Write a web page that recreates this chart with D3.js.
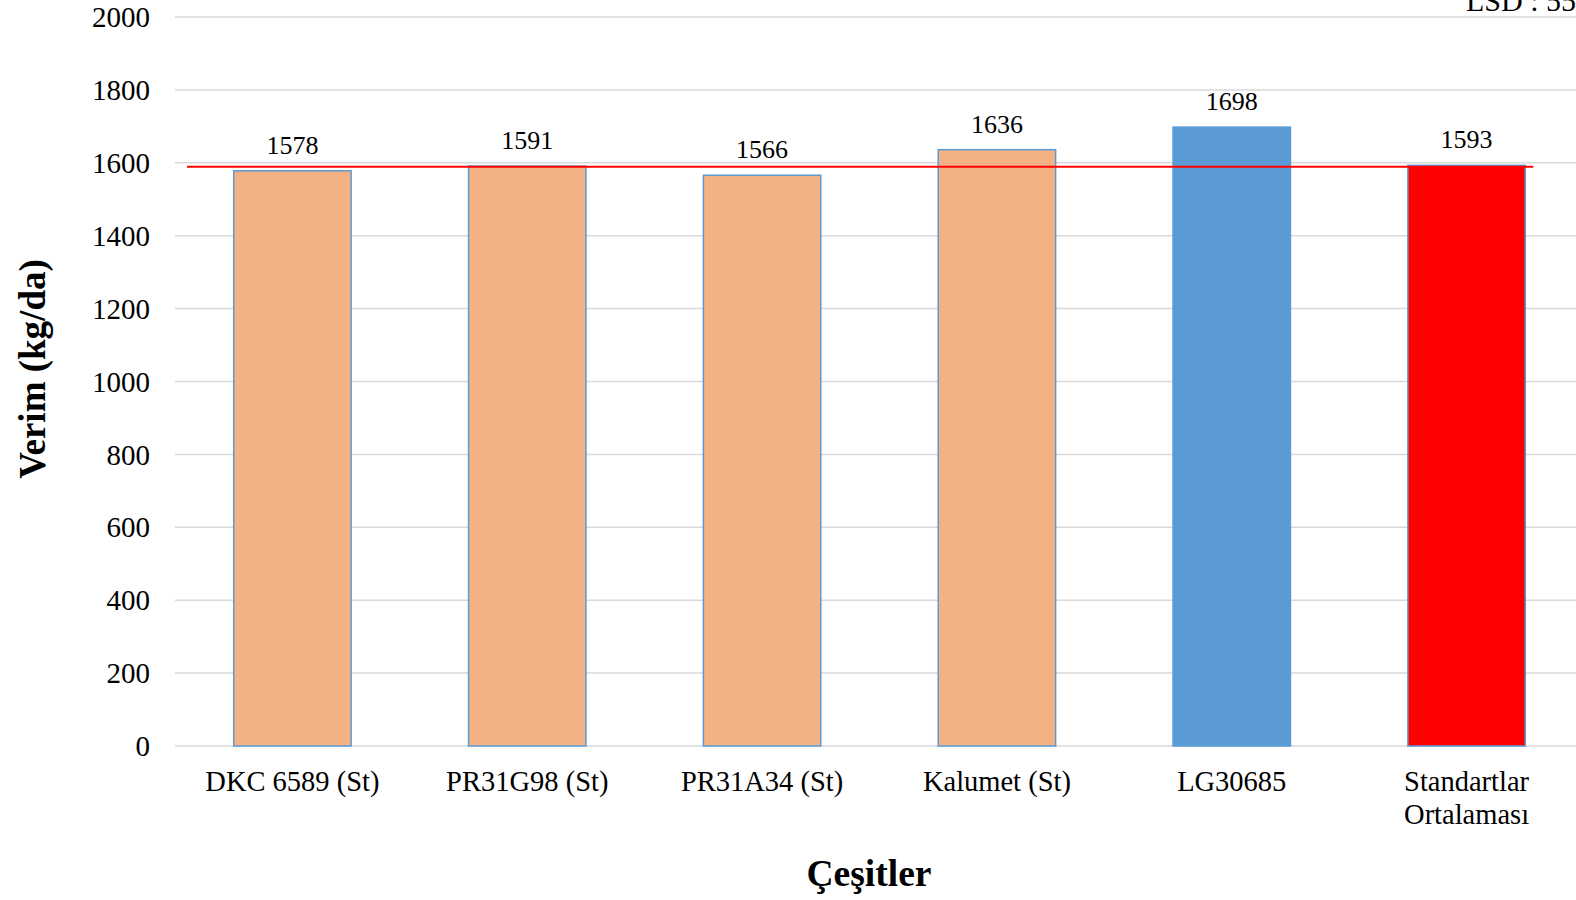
<!DOCTYPE html>
<html><head><meta charset="utf-8">
<script src="https://cdn.jsdelivr.net/npm/d3@7"></script>
<style>body{margin:0;background:#fff;overflow:hidden}text{font-family:"Liberation Serif","Times New Roman",serif;fill:#000}</style>
</head><body><svg id="c" width="1576" height="900"></svg>
<script>
const categories = ["DKC 6589 (St)", "PR31G98 (St)", "PR31A34 (St)", "Kalumet (St)", "LG30685", "Standartlar Ortalaması"];
const values = [1578, 1591, 1566, 1636, 1698, 1593];
const barColors = ["#F4B183", "#F4B183", "#F4B183", "#F4B183", "#5B9BD5", "#FF0000"];
const yTicks = [0, 200, 400, 600, 800, 1000, 1200, 1400, 1600, 1800, 2000];
const meanLine = 1593;
const lsdText = "LSD : 55";

const svg = d3.select("#c");
const x = d3.scaleBand().domain(categories).range([175, 1584]).paddingInner(0.5).paddingOuter(0.25);
const y = d3.scaleLinear().domain([0, 2000]).range([746, 17]);

// gridlines
svg.append("g").selectAll("line").data(yTicks).join("line")
  .attr("x1", 175).attr("x2", 1576)
  .attr("y1", d => y(d)).attr("y2", d => y(d))
  .attr("stroke", "#d9d9d9").attr("stroke-width", 1.5);

// y tick labels
svg.append("g").selectAll("text").data(yTicks).join("text")
  .attr("x", 150).attr("y", d => y(d)).attr("dy", "0.35em")
  .attr("text-anchor", "end").attr("font-size", 29).text(d => d);

// bars
svg.append("g").selectAll("rect").data(values).join("rect")
  .attr("x", (d, i) => x(categories[i])).attr("width", x.bandwidth())
  .attr("y", d => y(d)).attr("height", d => y(0) - y(d))
  .attr("fill", (d, i) => barColors[i])
  .attr("stroke", "#5B9BD5").attr("stroke-width", 1.5);

// data labels
svg.append("g").selectAll("text").data(values).join("text")
  .attr("x", (d, i) => x(categories[i]) + x.bandwidth() / 2)
  .attr("y", d => y(d) - 17)
  .attr("text-anchor", "middle").attr("font-size", 26).text(d => d);

// mean line
svg.append("line")
  .attr("x1", x.range()[0] + 12)
  .attr("x2", x(categories[categories.length - 1]) + x.bandwidth() + 8)
  .attr("y1", y(meanLine) + 1.5).attr("y2", y(meanLine) + 1.5)
  .attr("stroke", "#FF0000").attr("stroke-width", 2);

// category labels
const cl = svg.append("g").selectAll("text").data(categories).join("text")
  .attr("x", d => x(d) + x.bandwidth() / 2)
  .attr("y", 791)
  .attr("text-anchor", "middle").attr("font-size", 28.5);
cl.each(function(d) {
  const parts = d.split(" ");
  const t = d3.select(this);
  if (d === "Standartlar Ortalaması") {
    t.append("tspan").attr("x", x(d) + x.bandwidth() / 2).text(parts[0]);
    t.append("tspan").attr("x", x(d) + x.bandwidth() / 2).attr("dy", 33).text(parts[1]);
  } else t.text(d);
});

// axis titles
svg.append("text").attr("transform", "translate(45,369) rotate(-90)")
  .attr("text-anchor", "middle").attr("font-size", 37).attr("font-weight", "bold").text("Verim (kg/da)");
svg.append("text").attr("x", 869).attr("y", 886)
  .attr("text-anchor", "middle").attr("font-size", 37.5).attr("font-weight", "bold").text("Çeşitler");

// LSD
svg.append("text").attr("x", 1466).attr("y", 11).attr("font-size", 30).text(lsdText);
</script></body></html>
